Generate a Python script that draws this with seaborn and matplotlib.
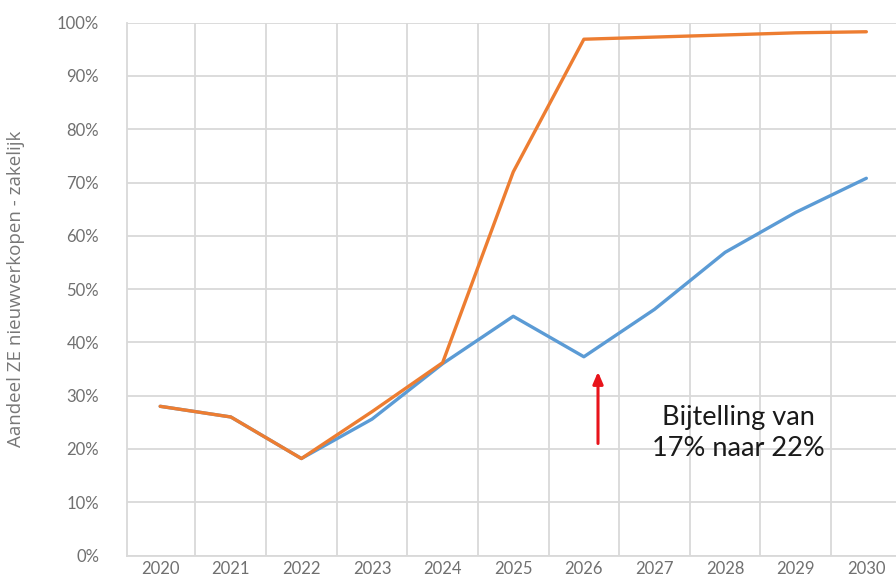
import numpy as np
import pandas as pd
import matplotlib
matplotlib.use("Agg")
import matplotlib.pyplot as plt
import seaborn as sns

# values (share in %)
years = [2020, 2021, 2022, 2023, 2024, 2025, 2026, 2027, 2028, 2029, 2030]
share_orange = [28.0, 26.0, 18.2, 27.0, 36.2, 72.0, 96.9, 97.3, 97.7, 98.1, 98.3]
share_blue = [28.0, 26.0, 18.2, 25.6, 36.0, 44.9, 37.3, 46.2, 56.9, 64.4, 70.8]
series_names = ["blauw", "oranje"]
series_colors = ["#5B9BD5", "#ED7D31"]
y_ticks = [0, 10, 20, 30, 40, 50, 60, 70, 80, 90, 100]
y_label = "Aandeel ZE nieuwverkopen - zakelijk"
note_text = "Bijtelling van\n17% naar 22%"
arrow_year = 2026.2
arrow_from = 20.5
arrow_to = 35.0


def build_frame():
    """Long-form table for seaborn."""
    parts = []
    for name, vals in zip(series_names, [share_blue, share_orange]):
        parts.append(pd.DataFrame({"jaar": years, "aandeel": vals, "serie": name}))
    return pd.concat(parts, ignore_index=True)


def main():
    sns.set_style("white")
    plt.rcParams["font.family"] = ["Lato", "DejaVu Sans"]

    df = build_frame()

    fig = plt.figure(figsize=(8.96, 5.78), dpi=100)
    ax = fig.add_axes([127 / 896, 22.5 / 578, 769 / 896, 532.8 / 578])

    sns.lineplot(data=df, x="jaar", y="aandeel", hue="serie", hue_order=series_names,
                 palette=series_colors, linewidth=2.4, legend=False, ax=ax)

    ax.set_xlim(2019.53, 2030.42)
    ax.set_ylim(0, 100)

    # Excel-style category grid: vertical lines between the years
    ax.set_xticks(years)
    ax.set_xticklabels([str(y) for y in years])
    ax.set_xticks([y + 0.5 for y in years[:-1]], minor=True)
    ax.set_yticks(y_ticks)
    ax.set_yticklabels([f"{v}%" for v in y_ticks])
    ax.grid(which="minor", axis="x", color="#d9d9d9", linewidth=1.3)
    ax.grid(which="major", axis="y", color="#d9d9d9", linewidth=1.3)
    ax.set_axisbelow(True)

    ax.tick_params(axis="both", which="both", length=0)
    ax.tick_params(axis="y", labelsize=12, labelcolor="#707070", pad=20)
    ax.tick_params(axis="x", labelsize=12, labelcolor="#707070", pad=4)

    for side in ["top", "right"]:
        ax.spines[side].set_visible(False)
    for side in ["left", "bottom"]:
        ax.spines[side].set_color("#d9d9d9")
        ax.spines[side].set_linewidth(1.3)

    ax.set_xlabel("")
    ax.set_ylabel(y_label, fontsize=13.5, color="#777777", family=["Open Sans", "DejaVu Sans"])
    ax.yaxis.set_label_coords(-0.133, 0.5)

    ax.annotate("", xy=(arrow_year, arrow_to), xytext=(arrow_year, arrow_from),
                arrowprops=dict(arrowstyle="-|>,head_length=0.7,head_width=0.3",
                                color="#e8141b", lw=2.2))
    ax.text(2028.19, 22.9, note_text, ha="center", va="center", fontsize=19.5,
            color="#1a1a1a", linespacing=1.3)

    fig.savefig("out.png", dpi=100)


if __name__ == "__main__":
    main()
